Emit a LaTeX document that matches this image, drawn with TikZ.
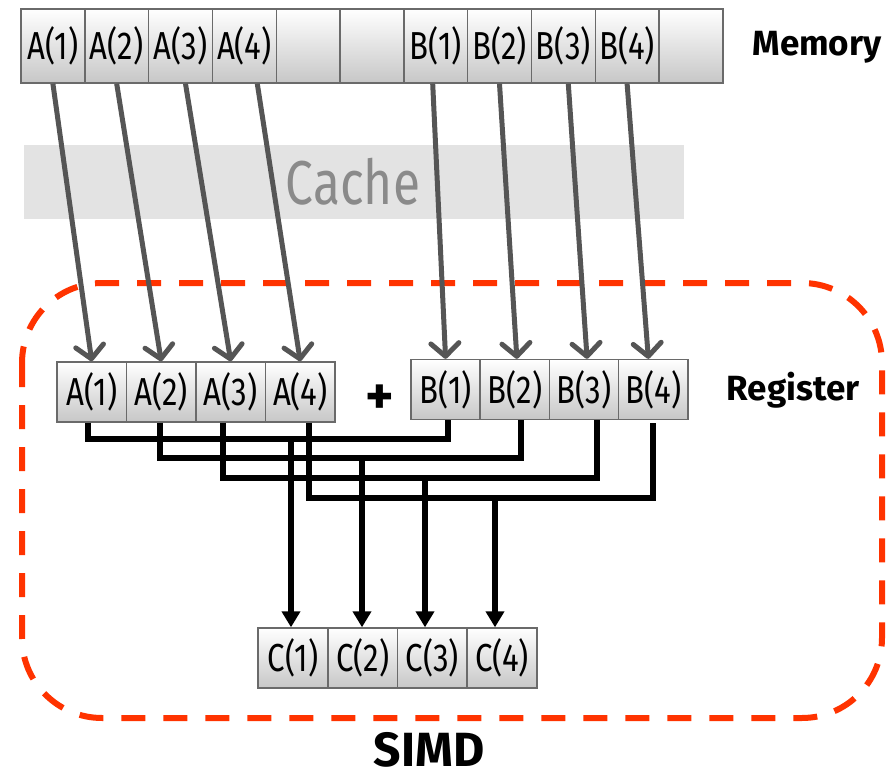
\documentclass[tikz,border=0pt]{standalone}
\usepackage{fontspec}
\setmainfont{Fira Sans}[FakeStretch=0.8]
\newfontfamily\labelfont{Fira Sans}
\usetikzlibrary{arrows.meta}

\definecolor{simdred}{HTML}{FF3300}
\definecolor{cachegray}{HTML}{E3E3E3}
\definecolor{cachetext}{HTML}{8A8A8A}
\definecolor{loadgray}{HTML}{555555}
\definecolor{cellborder}{HTML}{6A6A6A}

\tikzset{
  cell/.style={draw=cellborder, line width=1.4pt, top color=white,
    bottom color=black!22, minimum height=#1, inner sep=0pt,
    font=\fontsize{39}{42}\selectfont},
  memcell/.style={cell=74pt, minimum width=63.8pt},
  regcell/.style={cell=60pt, minimum width=69.5pt},
  load/.style={draw=loadgray, line width=5pt,
    -{Straight Barb[length=13pt,width=28pt,round]}},
  bus/.style={draw=black, line width=6pt},
  result/.style={bus, -{Triangle[length=16pt,width=18pt]}},
  tag/.style={inner sep=0pt, font=\labelfont\bfseries\fontsize{#1}{#1}\selectfont}
}

\begin{document}
\begin{tikzpicture}[x=1pt, y=-1pt]
\useasboundingbox (0,0) rectangle (887,781);

% cache band
\fill[cachegray] (24,145) rectangle (684,219);
\node[font=\fontsize{62}{62}\selectfont, text=cachetext] (cache) at (353,182) {Cache};

% SIMD unit outline
\draw[simdred, line width=6pt, rounded corners=80pt, dash pattern=on 24pt off 18pt]
  (22,283) rectangle (882,718);

% memory row
\node[memcell] (mA1) at (52.9,46) {A(1)};
\node[memcell] (mA2) at (116.7,46) {A(2)};
\node[memcell] (mA3) at (180.5,46) {A(3)};
\node[memcell] (mA4) at (244.3,46) {A(4)};
\node[memcell] (mE1) at (308.1,46) {};
\node[memcell] (mE2) at (371.9,46) {};
\node[memcell] (mB1) at (435.7,46) {B(1)};
\node[memcell] (mB2) at (499.5,46) {B(2)};
\node[memcell] (mB3) at (563.3,46) {B(3)};
\node[memcell] (mB4) at (627.1,46) {B(4)};
\node[memcell] (mE3) at (690.9,46) {};
\node[tag=35] (memlabel) at (817,47) {Memory};

% register operands
\node[regcell] (rA1) at (91.75,392) {A(1)};
\node[regcell] (rA2) at (161.25,392) {A(2)};
\node[regcell] (rA3) at (230.75,392) {A(3)};
\node[regcell] (rA4) at (300.25,392) {A(4)};
\node[tag=54] (plus) at (380,400) {+};
\node[regcell] (rB1) at (445.6,389.5) {B(1)};
\node[regcell] (rB2) at (514.9,389.5) {B(2)};
\node[regcell] (rB3) at (584.1,389.5) {B(3)};
\node[regcell] (rB4) at (653.4,389.5) {B(4)};
\node[tag=35] (reglabel) at (793,390) {Register};

% result register
\node[regcell] (c1) at (292.9,658) {C(1)};
\node[regcell] (c2) at (362.6,658) {C(2)};
\node[regcell] (c3) at (432.4,658) {C(3)};
\node[regcell] (c4) at (502.1,658) {C(4)};

\node[tag=48] (simd) at (429,750) {SIMD};

% loads from memory into the registers
\draw[load] (mA1.south) -- (rA1.north);
\draw[load] (mA2.south) -- (rA2.north);
\draw[load] ([xshift=5pt]mA3.south) -- (rA3.north);
\draw[load] ([xshift=13pt]mA4.south) -- (rA4.north);
\draw[load] ([xshift=-3pt]mB1.south) -- (rB1.north);
\draw[load] (mB2.south) -- ([xshift=2pt]rB2.north);
\draw[load] ([xshift=5pt]mB3.south) -- ([xshift=3pt]rB3.north);
\draw[load] (mB4.south) -- ([xshift=-5pt]rB4.north);

% lane buses pairing A(i) with B(i)
\coordinate (l1) at (0,439);
\coordinate (l2) at (0,458);
\coordinate (l3) at (0,478);
\coordinate (l4) at (0,498);
\path ([xshift=2.4pt]rB1.south) coordinate (b1)
      ([xshift=6.1pt]rB2.south) coordinate (b2)
      ([xshift=12.9pt]rB3.south) coordinate (b3)
      ([yshift=-3pt]rB4.south) coordinate (b4);
\draw[bus] ([xshift=-3.75pt]rA1.south) |- (l1 -| b1) -- (b1);
\draw[bus] ([xshift=-1.25pt]rA2.south) |- (l2 -| b2) -- (b2);
\draw[bus] ([xshift=-7.75pt]rA3.south) |- (l3 -| b3) -- (b3);
\draw[bus] ([xshift=8.75pt]rA4.south) |- (l4 -| b4) -- (b4);

% lane results
\coordinate (t1) at (291,439);
\coordinate (t2) at (362,458);
\coordinate (t3) at (425,478);
\coordinate (t4) at (495,498);
\draw[result] (t1) -- (t1 |- c1.north);
\draw[result] (t2) -- (t2 |- c2.north);
\draw[result] (t3) -- (t3 |- c3.north);
\draw[result] (t4) -- (t4 |- c4.north);
\end{tikzpicture}
\end{document}
